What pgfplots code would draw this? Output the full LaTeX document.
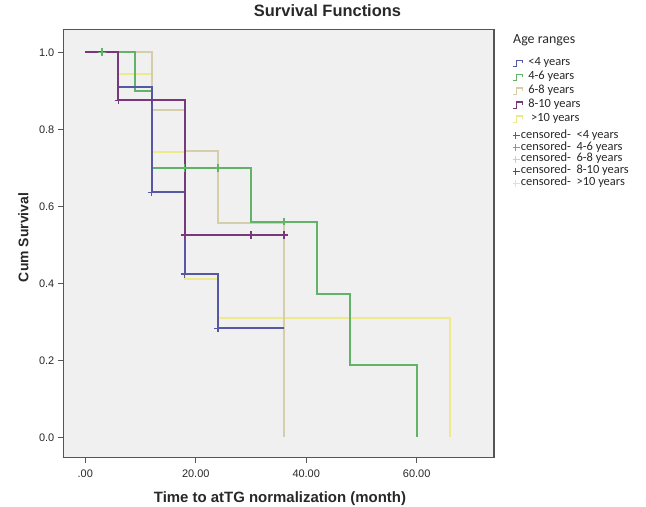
\documentclass[border=0pt]{standalone}
\usepackage{fontspec}
\setmainfont{Liberation Sans}
\newfontfamily\legfont{Carlito}
\usepackage{pgfplots}
\pgfplotsset{compat=1.18}

\definecolor{cblue}{RGB}{86,88,164}
\definecolor{cgreen}{RGB}{98,178,104}
\definecolor{ctan}{RGB}{212,206,170}
\definecolor{cpurple}{RGB}{122,56,124}
\definecolor{cyellow}{RGB}{238,234,140}
\definecolor{plotbg}{RGB}{240,240,240}
\definecolor{framegray}{RGB}{85,85,85}
\definecolor{txt}{RGB}{40,40,40}

\pgfplotsset{
  kmstep/.style={const plot mark left, line width=2bp, mark=none},
  kmcens/.style={only marks, mark=+, mark size=3.8bp, mark options={line width=1.5bp}},
  steplegend/.style={legend image code/.code={
    \path[draw=none, fill=none] (0bp,-6.95bp) rectangle (7.5bp,6.95bp);
    \draw[##1, overlay, line width=1.3bp] (0bp,-3.5bp) -- (4bp,-3.5bp) -- (4bp,3bp) -- (10bp,3bp) -- (10bp,0bp);}},
  steplegendlast/.style={legend image code/.code={
    \path[draw=none, fill=none] (0bp,-10.75bp) rectangle (7.5bp,6.95bp);
    \draw[##1, overlay, line width=1.3bp] (0bp,-3.5bp) -- (4bp,-3.5bp) -- (4bp,3bp) -- (10bp,3bp) -- (10bp,0bp);}},
  censlegend/.style={legend image code/.code={
    \draw[##1, line width=1.3bp] (0bp,0bp) -- (7.5bp,0bp);
    \draw[##1, line width=1.3bp] (2.5bp,-3.5bp) -- (2.5bp,3.5bp);}},
}

\begin{document}
\begin{tikzpicture}
\useasboundingbox (-63.3bp,-49.7bp) rectangle (582.7bp,457.3bp);
\begin{axis}[
  at={(0,0)}, anchor=south west,
  scale only axis,
  width=430.7bp, height=428bp,
  xmin=-3.98, xmax=74,
  ymin=-0.052, ymax=1.0597,
  clip=false,
  axis background/.style={fill=plotbg},
  axis line style={draw=framegray, line width=1.4bp},
  tick style={draw=framegray, line width=1.2bp},
  tick align=outside,
  major tick length=5.5bp,
  xtick pos=bottom, ytick pos=left,
  xtick={0,20,40,60}, xticklabels={.00,20.00,40.00,60.00},
  ytick={0,0.2,0.4,0.6,0.8,1}, yticklabels={0.0,0.2,0.4,0.6,0.8,1.0},
  /pgf/number format/assume math mode=true,
  ticklabel style={font=\fontsize{11}{11}\selectfont, text=txt},
  xticklabel style={yshift=-4bp},
  title={Survival Functions},
  title style={font=\bfseries\fontsize{16.5}{16.5}\selectfont, text=txt,
    at={([yshift=6.6bp]axis description cs:0.6134,1)}, anchor=base, inner sep=0pt},
  xlabel={Time to atTG normalization (month)},
  xlabel style={font=\bfseries\fontsize{15}{15}\selectfont, text=txt,
    at={([yshift=-45.4bp]axis description cs:0.503,0)}, anchor=base, inner sep=0pt},
  ylabel={Cum Survival},
  ylabel style={font=\bfseries\fontsize{14}{14}\selectfont, text=txt,
    at={([xshift=-34.8bp]axis description cs:0,0.5136)}, anchor=base, inner sep=0pt},
  legend cell align=left,
  legend style={at={(axis description cs:1.0418,0.9368)}, anchor=north west,
    draw=none, fill=none, inner sep=0pt, outer sep=0pt,
    font=\legfont\fontsize{12.5}{12.5}\selectfont, text=txt,
    nodes={inner sep=0pt, text height=8.5bp, text depth=3.4bp}},
]
% >10 years
\addplot[kmstep, cyellow, forget plot] coordinates {(0,1) (6,0.944) (12,0.742) (18,0.412) (24,0.309) (66,0)};
% 6-8 years
\addplot[kmstep, ctan, forget plot] coordinates {(0,1) (12,0.85) (18,0.743) (24,0.557) (36,0)};
% 4-6 years
\addplot[kmstep, cgreen, forget plot] coordinates {(0,1) (9,0.9) (12,0.7) (30,0.56) (42,0.373) (48,0.187) (60,0)};
% <4 years
\addplot[kmstep, cblue, forget plot] coordinates {(0,1) (6,0.909) (12,0.636) (18,0.424) (24,0.283) (36,0.283)};
% 8-10 years
\addplot[kmstep, cpurple, forget plot] coordinates {(0,1) (6,0.875) (18,0.525) (36,0.525)};

% censored cases
\addplot[kmcens, cgreen, forget plot] coordinates {(3,1) (18,0.7) (24,0.7) (36,0.56)};
\addplot[kmcens, cblue, forget plot] coordinates {(12,0.636) (18,0.424) (24,0.283)};
\addplot[kmcens, cpurple, forget plot] coordinates {(6,0.875) (12,0.875) (18,0.525) (30,0.525) (36,0.525)};

\addlegendimage{steplegend, cblue}
\addlegendentry{\hspace{7.5bp}<4 years}
\addlegendimage{steplegend, cgreen}
\addlegendentry{\hspace{7.5bp}4-6 years}
\addlegendimage{steplegend, ctan}
\addlegendentry{\hspace{7.5bp}6-8 years}
\addlegendimage{steplegend, cpurple}
\addlegendentry{\hspace{7.5bp}8-10 years}
\addlegendimage{steplegendlast, cyellow}
\addlegendentry{\hspace{7.5bp}\ >10 years}
\addlegendimage{censlegend, cblue}
\addlegendentry{censored-\ \ <4 years}
\addlegendimage{censlegend, cgreen}
\addlegendentry{censored-\ \ 4-6 years}
\addlegendimage{censlegend, ctan}
\addlegendentry{censored-\ \ 6-8 years}
\addlegendimage{censlegend, cpurple}
\addlegendentry{censored-\ \ 8-10 years}
\addlegendimage{censlegend, cyellow}
\addlegendentry{censored-\ \ >10 years}

\node[anchor=west, inner sep=0pt, font=\legfont\fontsize{14}{14}\selectfont, text=txt]
  at (axis description cs:1.0441,0.975) {Age ranges};
\end{axis}
\end{tikzpicture}
\end{document}
